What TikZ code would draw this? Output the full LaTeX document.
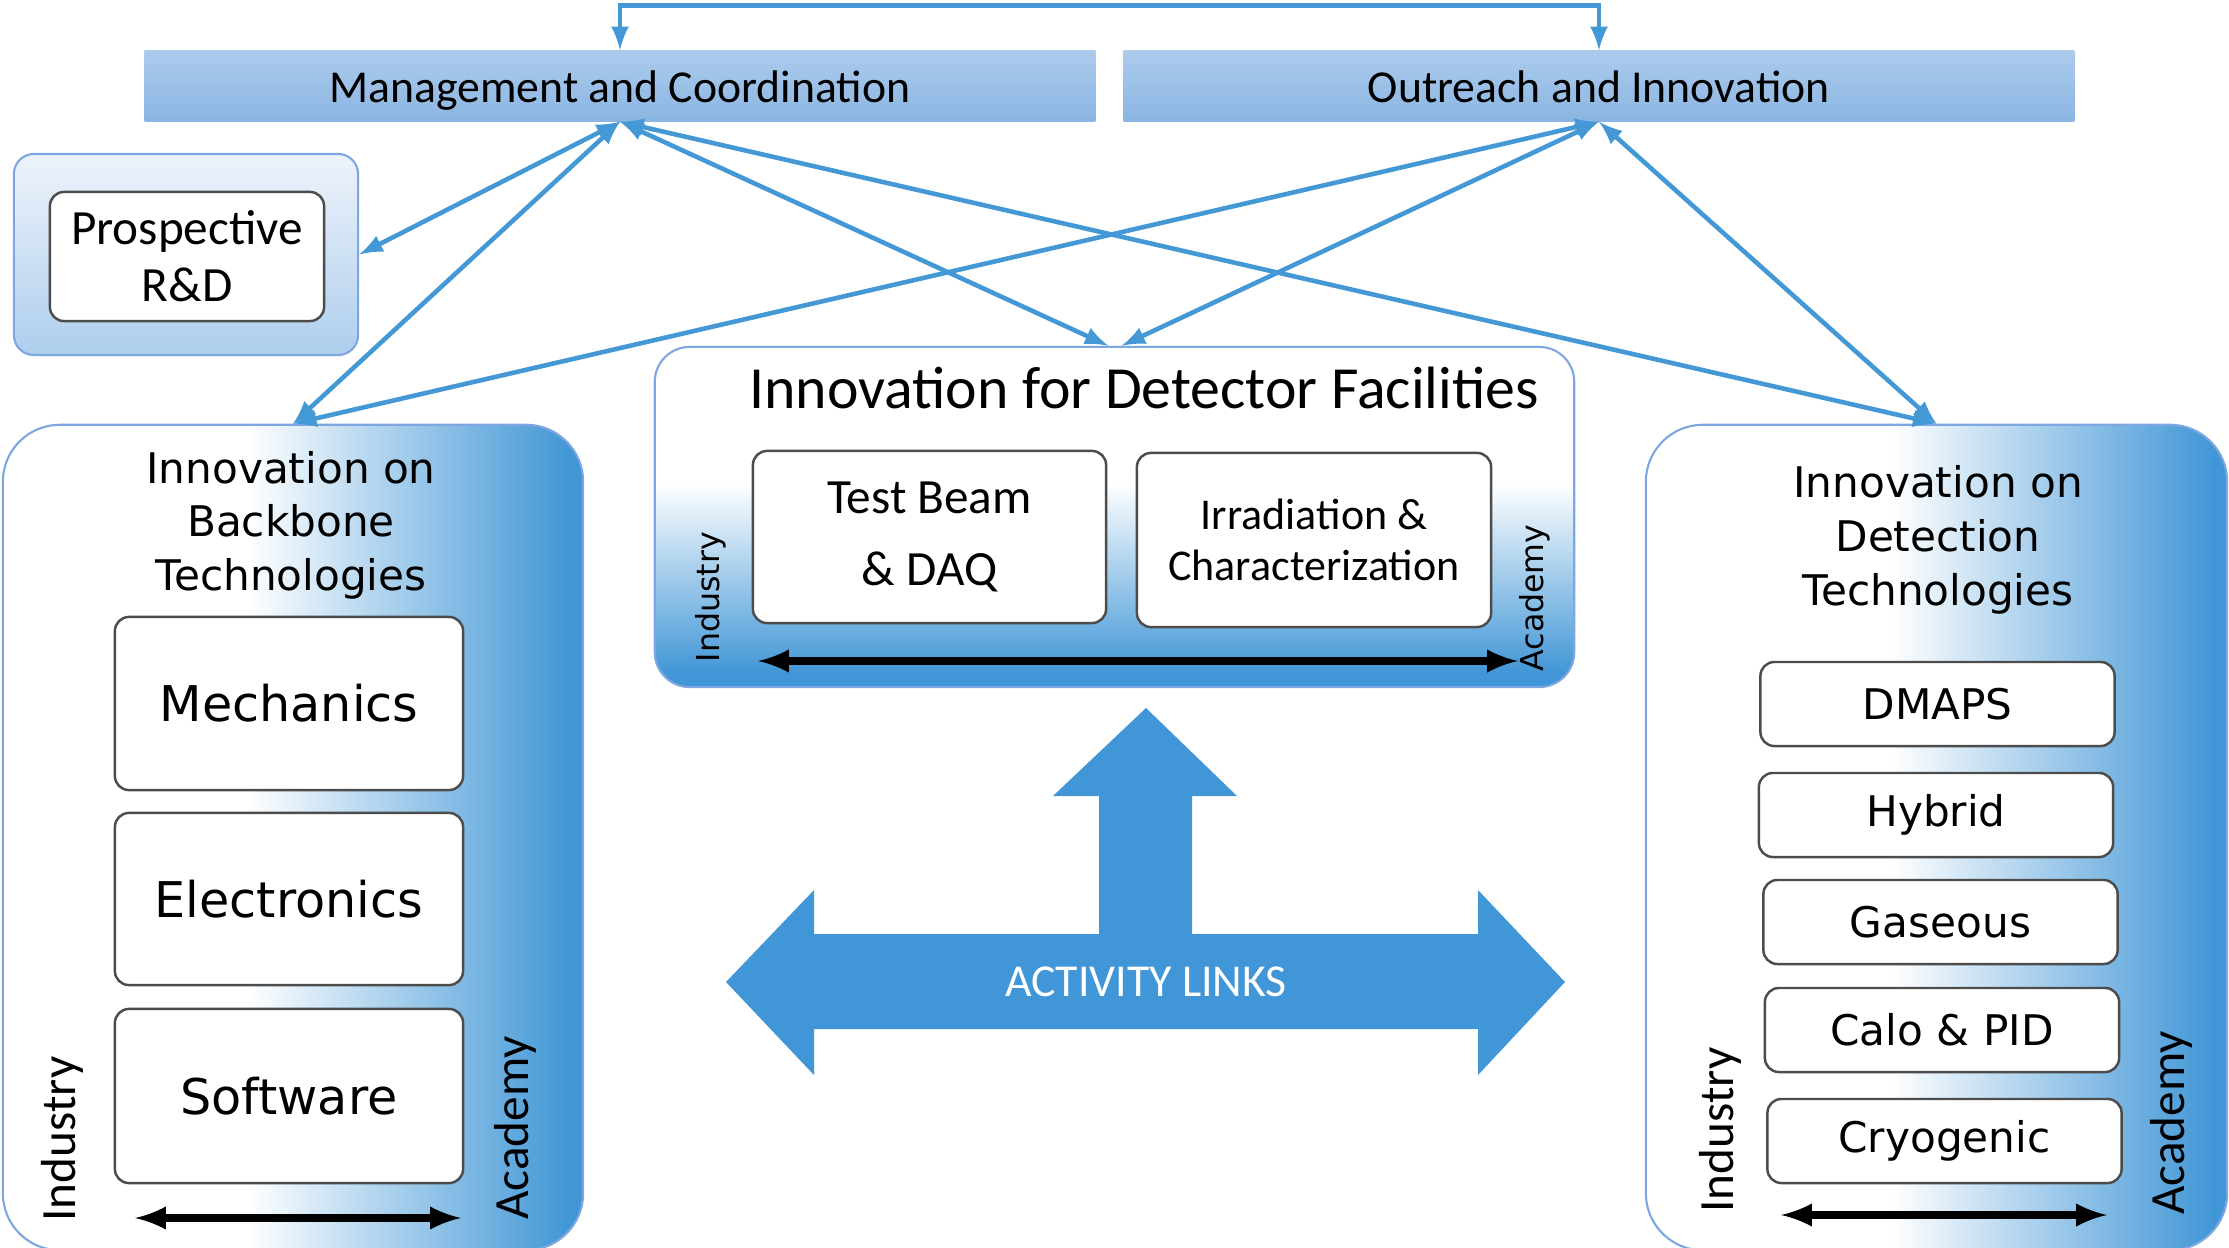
\documentclass[tikz,border=0pt]{standalone}
\usepackage{fontspec}
\setmainfont{Carlito}
\newfontfamily\vfont{DejaVu Sans}
\usepackage{tikz}

\definecolor{linkblue}{RGB}{68,152,214}
\definecolor{deepblue}{RGB}{64,150,214}
\definecolor{barTop}{RGB}{172,203,236}
\definecolor{barBot}{RGB}{139,181,226}
\definecolor{edgeblue}{RGB}{126,166,224}
\definecolor{paleTop}{RGB}{238,243,251}
\definecolor{paleBot}{RGB}{174,206,237}

\pgfdeclarehorizontalshading{sideshade}{100bp}{color(0bp)=(white); color(46bp)=(white); color(74bp)=(deepblue); color(100bp)=(deepblue)}
\pgfdeclareverticalshading{floorshade}{100bp}{color(0bp)=(deepblue); color(27bp)=(deepblue); color(55bp)=(white); color(100bp)=(white)}

\begin{document}
\begin{tikzpicture}[x=0.01cm, y=-0.01cm, every node/.style={inner sep=0pt},
    bar/.style={top color=barTop, bottom color=barBot, minimum width=9.5cm, minimum height=0.7cm, text height=2.3ex, text depth=0.3ex, font=\fontsize{13}{15}\selectfont},
    item/.style={draw=black!70, fill=white, rounded corners=0.14cm, line width=0.7pt, align=center},
    panel/.style={draw=edgeblue, line width=0.6pt, shade},
    link/.style={draw=linkblue, line width=1.3pt, <->, >=latex},
    span/.style={line width=2pt, <->, >=latex}]
    \useasboundingbox (0,0) rectangle (2229,1248);

    \node[bar] (mgmt) at (620,86) {Management and Coordination};
    \node[bar] (outr) at (1599,86) {Outreach and Innovation};

    \node[panel, top color=paleTop, bottom color=paleBot, rounded corners=0.2cm, minimum width=3.44cm, minimum height=2.01cm] (pro) at (186,254.5) {};
    \node[item, minimum width=2.74cm, minimum height=1.29cm, font=\fontsize{14}{16.2}\selectfont] (prd) at (187,256.5) {Prospective\\R\&D};

    \node[panel, shading=floorshade, rounded corners=0.35cm, minimum width=9.19cm, minimum height=3.4cm] (fac) at (1114.5,517) {};
    \node[font=\fontsize{17}{20}\selectfont] (fact) at (1144,388) {Innovation for Detector Facilities};
    \node[item, minimum width=3.53cm, minimum height=1.72cm, font=\fontsize{14}{20.6}\selectfont] (tb) at (929.5,537) {Test Beam\\\& DAQ};
    \node[item, minimum width=3.54cm, minimum height=1.74cm, font=\fontsize{12.5}{14.5}\selectfont] (irr) at (1314,540) {Irradiation \&\\Characterization};
    \node[rotate=90, font=\vfont\fontsize{9}{10}\selectfont] (fi) at (711,597) {Industry};
    \node[rotate=90, font=\vfont\fontsize{9}{10}\selectfont] (fa) at (1535,598) {Academy};
    \coordinate (fl) at (758,661);
    \coordinate (fr) at (1518,661);
    \draw[span] (fl) -- (fr);

    \node[panel, shading=sideshade, rounded corners=0.57cm, minimum width=5.8cm, minimum height=8.25cm] (bb) at (293,837.5) {};
    \node[align=center, font=\vfont\fontsize{12}{15.2}\selectfont] (bbt) at (291,525) {Innovation on\\Backbone\\Technologies};
    \node[item, minimum width=3.48cm, minimum height=1.73cm, font=\vfont\fontsize{14}{16}\selectfont] (mech) at (289,703.5) {Mechanics};
    \node[item, minimum width=3.48cm, minimum height=1.72cm, font=\vfont\fontsize{14}{16}\selectfont] (elec) at (289,899) {Electronics};
    \node[item, minimum width=3.48cm, minimum height=1.74cm, font=\vfont\fontsize{14}{16}\selectfont] (soft) at (289,1096) {Software};
    \node[rotate=90, font=\fontsize{14}{16}\selectfont] (bi) at (62,1139) {Industry};
    \node[rotate=90, font=\fontsize{14}{16}\selectfont] (ba) at (515,1128) {Academy};
    \coordinate (bl) at (135,1218);
    \coordinate (br) at (461,1218);
    \draw[span] (bl) -- (br);

    \node[panel, shading=sideshade, rounded corners=0.57cm, minimum width=5.81cm, minimum height=8.25cm] (det) at (1936.5,837.5) {};
    \node[align=center, font=\vfont\fontsize{12}{15.4}\selectfont] (dett) at (1938,540) {Innovation on\\Detection\\Technologies};
    \node[item, minimum width=3.54cm, minimum height=0.84cm, font=\vfont\fontsize{12}{14}\selectfont] (dmaps) at (1937.5,704) {DMAPS};
    \node[item, minimum width=3.54cm, minimum height=0.84cm, font=\vfont\fontsize{12}{14}\selectfont] (hyb) at (1936,815) {Hybrid};
    \node[item, minimum width=3.54cm, minimum height=0.84cm, font=\vfont\fontsize{12}{14}\selectfont] (gas) at (1940.5,922) {Gaseous};
    \node[item, minimum width=3.54cm, minimum height=0.84cm, font=\vfont\fontsize{12}{14}\selectfont] (calo) at (1942,1030) {Calo \& PID};
    \node[item, minimum width=3.54cm, minimum height=0.84cm, font=\vfont\fontsize{12}{14}\selectfont] (cryo) at (1944.5,1141) {Cryogenic};
    \node[rotate=90, font=\fontsize{14}{16}\selectfont] (di) at (1720,1130) {Industry};
    \node[rotate=90, font=\fontsize{14}{16}\selectfont] (da) at (2171,1123) {Academy};
    \coordinate (dl) at (1781,1215);
    \coordinate (dr) at (2107,1215);
    \draw[span] (dl) -- (dr);

    \fill[deepblue] (1146,708) -- (1237,796) -- (1192,796) -- (1192,934) -- (1478,934) -- (1478,890)
        -- (1565,982) -- (1478,1075) -- (1478,1029) -- (814,1029) -- (814,1075) -- (726,982)
        -- (814,890) -- (814,934) -- (1099,934) -- (1099,796) -- (1053,796) -- cycle;
    \node[white, font=\fontsize{13}{15}\selectfont] (act) at (1146,982) {ACTIVITY LINKS};

    \draw[link] (mgmt.north) -- ++(0,-45) -| (outr.north);
    \draw[link] (mgmt.south) -- (pro.east);
    \draw[link] (mgmt.south) -- (bb.north);
    \draw[link] (mgmt.south) -- ([xshift=-0.06cm]fac.north);
    \draw[link] (mgmt.south) -- (det.north);
    \draw[link] (outr.south) -- (bb.north);
    \draw[link] (outr.south) -- ([xshift=0.07cm]fac.north);
    \draw[link] (outr.south) -- (det.north);
\end{tikzpicture}
\end{document}
